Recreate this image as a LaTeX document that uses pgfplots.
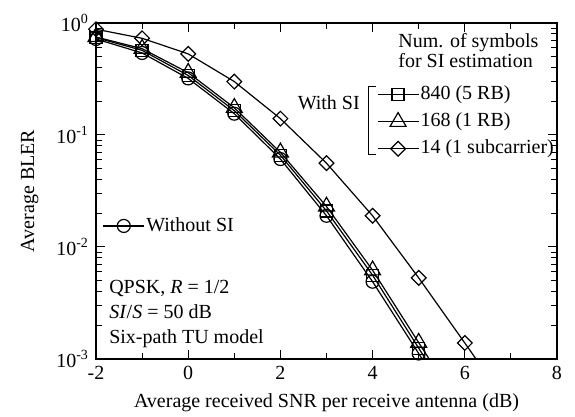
\documentclass[border=0pt]{standalone}
\usepackage{fontspec}
\setmainfont{Liberation Serif}
\usepackage{pgfplots}
\pgfplotsset{compat=1.18}
\usetikzlibrary{calc}

% BLER vs SNR, Six-path TU, QPSK R=1/2
\pgfplotstableread{
snr   bler
-2    0.72
-1    0.54
0     0.32
1     0.155
2     0.061
3     0.019
4     0.0049
5     0.00112
6     0.00025
}\withoutsi
\pgfplotstableread{
snr   bler
-2    0.74
-1    0.57
0     0.34
1     0.165
2     0.066
3     0.021
4     0.0056
5     0.00125
6     0.00028
}\rbfive
\pgfplotstableread{
snr   bler
-2    0.75
-1    0.59
0     0.36
1     0.175
2     0.070
3     0.023
4     0.0062
5     0.0014
6     0.00032
}\rbone
\pgfplotstableread{
snr   bler
-2    0.88
-1    0.73
0     0.53
1     0.30
2     0.14
3     0.056
4     0.019
5     0.0053
6     0.00139
7     0.00036
}\subcarrier

\pgfplotsset{
  bler/.style={black, line width=0.6pt, mark options={fill=white, solid, line width=0.6pt}},
  legend image code/.code={%
    \path[draw=none, fill=none] (0cm,-2pt) rectangle (0.72cm,2pt);
    \draw[overlay, #1, mark indices={2}] plot coordinates {(0cm,0cm)(0.36cm,0cm)(0.72cm,0cm)};},
}

\begin{document}
\begin{tikzpicture}[font=\fontsize{10}{12}\selectfont]
\begin{axis}[
  width=230.5pt, height=168pt, scale only axis,
  xmin=-2, xmax=8, ymin=1e-3, ymax=1,
  ymode=log,
  axis line style={line width=0.6pt},
  tick style={black, line width=0.5pt},
  tick align=inside,
  major tick length=4.5pt,
  minor tick length=3pt,
  xtick={-2,0,2,4,6,8},
  xticklabels={-2,0,2,4,6,8},
  minor x tick num=1,
  ytick={1e-3,1e-2,1e-1,1},
  yticklabels={10\textsuperscript{-3},10\textsuperscript{-2},10\textsuperscript{-1},10\textsuperscript{0}},
  xlabel={Average received SNR per receive antenna (dB)},
  ylabel={Average BLER},
  ylabel style={yshift=2pt},
  legend style={draw=none, fill=none, inner sep=0pt, row sep=4.3pt,
    at={(rel axis cs:0.61,0.815)}, anchor=north west,
    nodes={inner xsep=1pt, inner ysep=0pt, text height=7pt, text depth=2.2pt}},
  legend cell align=left,
]
\coordinate (bl) at (rel axis cs:0,0);
\coordinate (tr) at (rel axis cs:1,1);

\addplot[bler, mark=o, mark size=3.25pt, mark indices={1,2,3,4,5,6,7,8}, forget plot] table[x=snr, y=bler] {\withoutsi};
\addplot[bler, mark=square, mark size=3pt, mark indices={1,2,3,4,5,6,7,8}] table[x=snr, y=bler] {\rbfive};
\addlegendentry{840 (5 RB)}
\addplot[bler, mark=triangle, mark size=4.6pt, mark indices={1,2,3,4,5,6,7,8}] table[x=snr, y=bler] {\rbone};
\addlegendentry{168 (1 RB)}
\addplot[bler, mark=square, mark size=2.6pt, mark options={rotate=45}, mark indices={1,2,3,4,5,6,7,8,9}] table[x=snr, y=bler] {\subcarrier};
\addlegendentry{14 (1 subcarrier)}

\node[anchor=north west, inner sep=0pt, align=left, font=\fontsize{10}{10}\selectfont] at (rel axis cs:0.655,0.97) {Num. of symbols\\for SI estimation};
\node[anchor=east, inner sep=0pt] at (rel axis cs:0.573,0.762) {With SI};
\draw[line width=0.5pt] (rel axis cs:0.607,0.810) -- (rel axis cs:0.592,0.810) -- (rel axis cs:0.592,0.610) -- (rel axis cs:0.607,0.610);
\node[anchor=south west, inner sep=0pt, align=left, font=\fontsize{10}{12.5}\selectfont] at (rel axis cs:0.028,0.033)
  {QPSK, \textit{R} = 1/2\\\textit{SI}/\textit{S} = 50 dB\\Six-path TU model};
\end{axis}

\begin{axis}[
  width=230.5pt, height=168pt, scale only axis,
  xmin=-2, xmax=8, ymin=1e-3, ymax=1,
  hide axis,
  legend style={draw=none, fill=none, inner sep=0pt,
    at={(rel axis cs:0.015,0.396)}, anchor=west,
    nodes={inner xsep=1pt}},
]
\addlegendimage{bler, mark=o, mark size=3.25pt}
\addlegendentry{Without SI}
\end{axis}

\pgfresetboundingbox
\path[use as bounding box] ($(bl)+(-48pt,-29pt)$) rectangle ($(tr)+(9pt,11.5pt)$);
\end{tikzpicture}
\end{document}
